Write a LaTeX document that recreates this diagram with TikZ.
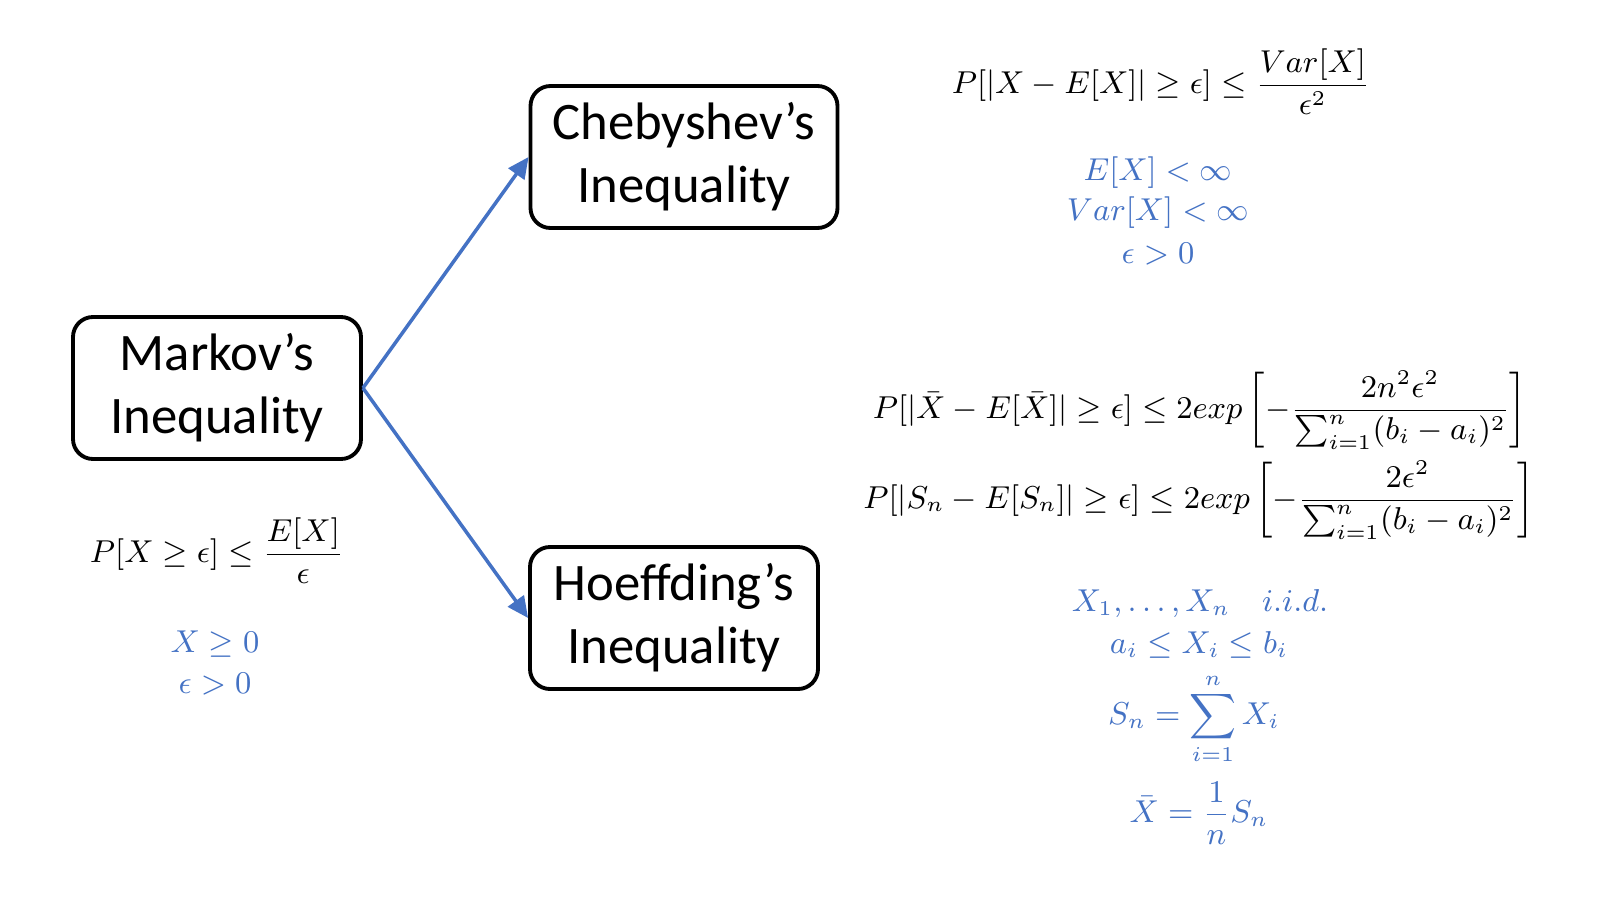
\documentclass[tikz,border=0pt]{standalone}
\usepackage{amsmath}
\usepackage{fontspec}
\usepackage{tikz}
\usetikzlibrary{arrows.meta,positioning}
\newfontfamily\boxfont{Carlito}
\definecolor{InkBlue}{HTML}{4472C4}

\begin{document}
\begin{tikzpicture}[
        x=1mm,y=1mm,
        ineq/.style={draw=black,line width=1.1pt,rounded corners=2mm,minimum height=14.2mm,align=center,font=\boxfont\fontsize{15}{18}\selectfont},
        link/.style={-{Triangle[length=6pt,width=5.5pt]},line width=1pt,draw=InkBlue},
        law/.style={font=\fontsize{9}{11}\selectfont},
        cond/.style={text=InkBlue,font=\fontsize{9}{11}\selectfont}
      ]
        \useasboundingbox (0,0) rectangle (160,90);
        \node[ineq,minimum width=28.8mm] (markov) at (21.7,51.2) {Markov’s\\Inequality};
        \node[ineq,minimum width=30.7mm] (cheb) at (68.4,74.3) {Chebyshev’s\\Inequality};
        \node[ineq,minimum width=28.8mm] (hoeff) at (67.4,28.2) {Hoeffding’s\\Inequality};
        \draw[link] (markov.east) -- (cheb.west);
        \draw[link] (markov.east) -- (hoeff.west);
        % Markov
        \node[law] (markovlaw) at (21.7,34.9) {$\displaystyle P[X\geq\epsilon]\leq\frac{E[X]}{\epsilon}$};
        \node[cond] (markovpos) at (21.5,25.6) {$X\geq 0$};
        \node[cond] (markoveps) at (21.5,21.6) {$\epsilon>0$};
        % Chebyshev
        \node[law] (cheblaw) at (116.1,81.8) {$\displaystyle P[|X-E[X]|\geq\epsilon]\leq\frac{Var[X]}{\epsilon^2}$};
        \node[cond] (chebmean) at (115.8,72.7) {$E[X]<\infty$};
        \node[cond] (chebvar) at (115.8,68.7) {$Var[X]<\infty$};
        \node[cond] (chebeps) at (115.8,64.6) {$\epsilon>0$};
        % Hoeffding
        \node[law] (hoefflawa) at (120.0,49.0) {$\displaystyle P[|\bar{X}-E[\bar{X}]|\geq\epsilon]\leq 2exp\left[-\frac{2n^2\epsilon^2}{\sum_{i=1}^{n}(b_i-a_i)^2}\right]$};
        \node[law] (hoefflawb) at (119.9,40.0) {$\displaystyle P[|S_n-E[S_n]|\geq\epsilon]\leq 2exp\left[-\frac{2\epsilon^2}{\sum_{i=1}^{n}(b_i-a_i)^2}\right]$};
        \node[cond] (hoeffiid) at (120.0,29.6) {$X_1,\ldots,X_n\quad i.i.d.$};
        \node[cond] (hoeffbound) at (119.9,25.5) {$a_i\leq X_i\leq b_i$};
        \node[cond] (hoeffsum) at (119.4,18.1) {$\displaystyle S_n=\sum_{i=1}^{n}X_i$};
        \node[cond] (hoeffmean) at (119.9,8.7) {$\displaystyle \bar{X}=\frac{1}{n}S_n$};
      \end{tikzpicture}
\end{document}
